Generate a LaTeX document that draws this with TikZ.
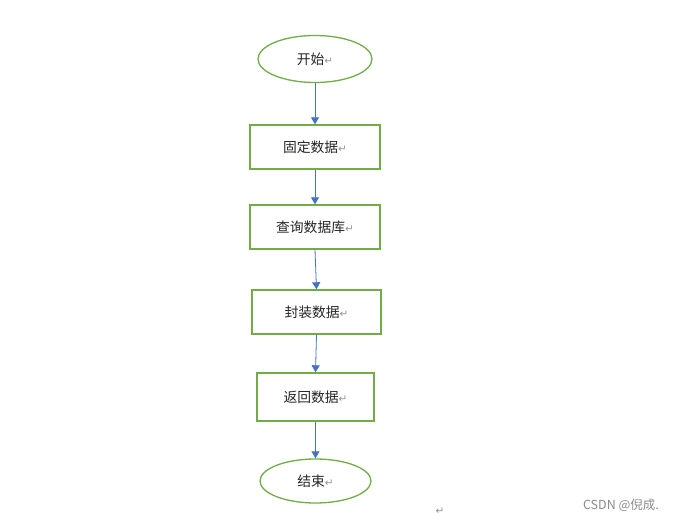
\documentclass[tikz,border=0pt]{standalone}
\usepackage{fontspec}
\setmainfont{Noto Sans CJK SC}
\newfontfamily\markfont{DejaVu Sans}
\usetikzlibrary{shapes}
\usetikzlibrary{arrows.meta}
\definecolor{c1}{RGB}{112,173,71}
\definecolor{c2}{RGB}{68,114,196}
\definecolor{c3}{RGB}{150,150,150}
\newcommand{\retmark}{{\markfont\color{c3}\fontsize{10.5}{10}\selectfont ↵}}

\begin{document}
\begin{tikzpicture}[x=1pt,y=-1pt,
    txt/.style={font=\fontsize{13.8}{15}\selectfont,text=black!85},
    term/.style={txt,ellipse,draw=c1,line width=1.3pt,inner sep=0pt},
    box/.style={txt,rectangle,draw=c1,line width=1.4pt,inner sep=0pt},
    flow/.style={draw=c2,line width=0.8pt,-{Triangle[length=7pt,width=8pt]}}]
    \useasboundingbox[fill=white] (0,0) rectangle (675,521);
    % start and end are ellipses, the steps are boxes
    \node[term,minimum width=114pt,minimum height=47pt] (start) at (315,59) {开始\retmark};
    \node[box,minimum width=130pt,minimum height=44pt] (fix) at (315,147) {固定数据\retmark};
    \node[box,minimum width=130pt,minimum height=44pt] (query) at (315,227) {查询数据库\retmark};
    \node[box,minimum width=129pt,minimum height=44pt] (pack) at (316.5,312) {封装数据\retmark};
    \node[box,minimum width=117pt,minimum height=48pt] (ret) at (315.5,397) {返回数据\retmark};
    \node[term,minimum width=111pt,minimum height=44pt] (stop) at (315.5,481) {结束\retmark};
    % arrows from one step to the next
    \draw[flow] (start.south) -- (fix.north);
    \draw[flow] (fix.south) -- (query.north);
    \draw[flow] (query.south) -- (pack.north);
    \draw[flow] (pack.south) -- (ret.north);
    \draw[flow] (ret.south) -- (stop.north);
    % leftovers at the bottom of the page
    \node[inner sep=0pt] (pmark) at (440,511) {\retmark};
    \node[font=\fontsize{12.5}{14}\selectfont,text=black!45] (wm) at (621,505) {CSDN @倪成.};
\end{tikzpicture}
\end{document}
